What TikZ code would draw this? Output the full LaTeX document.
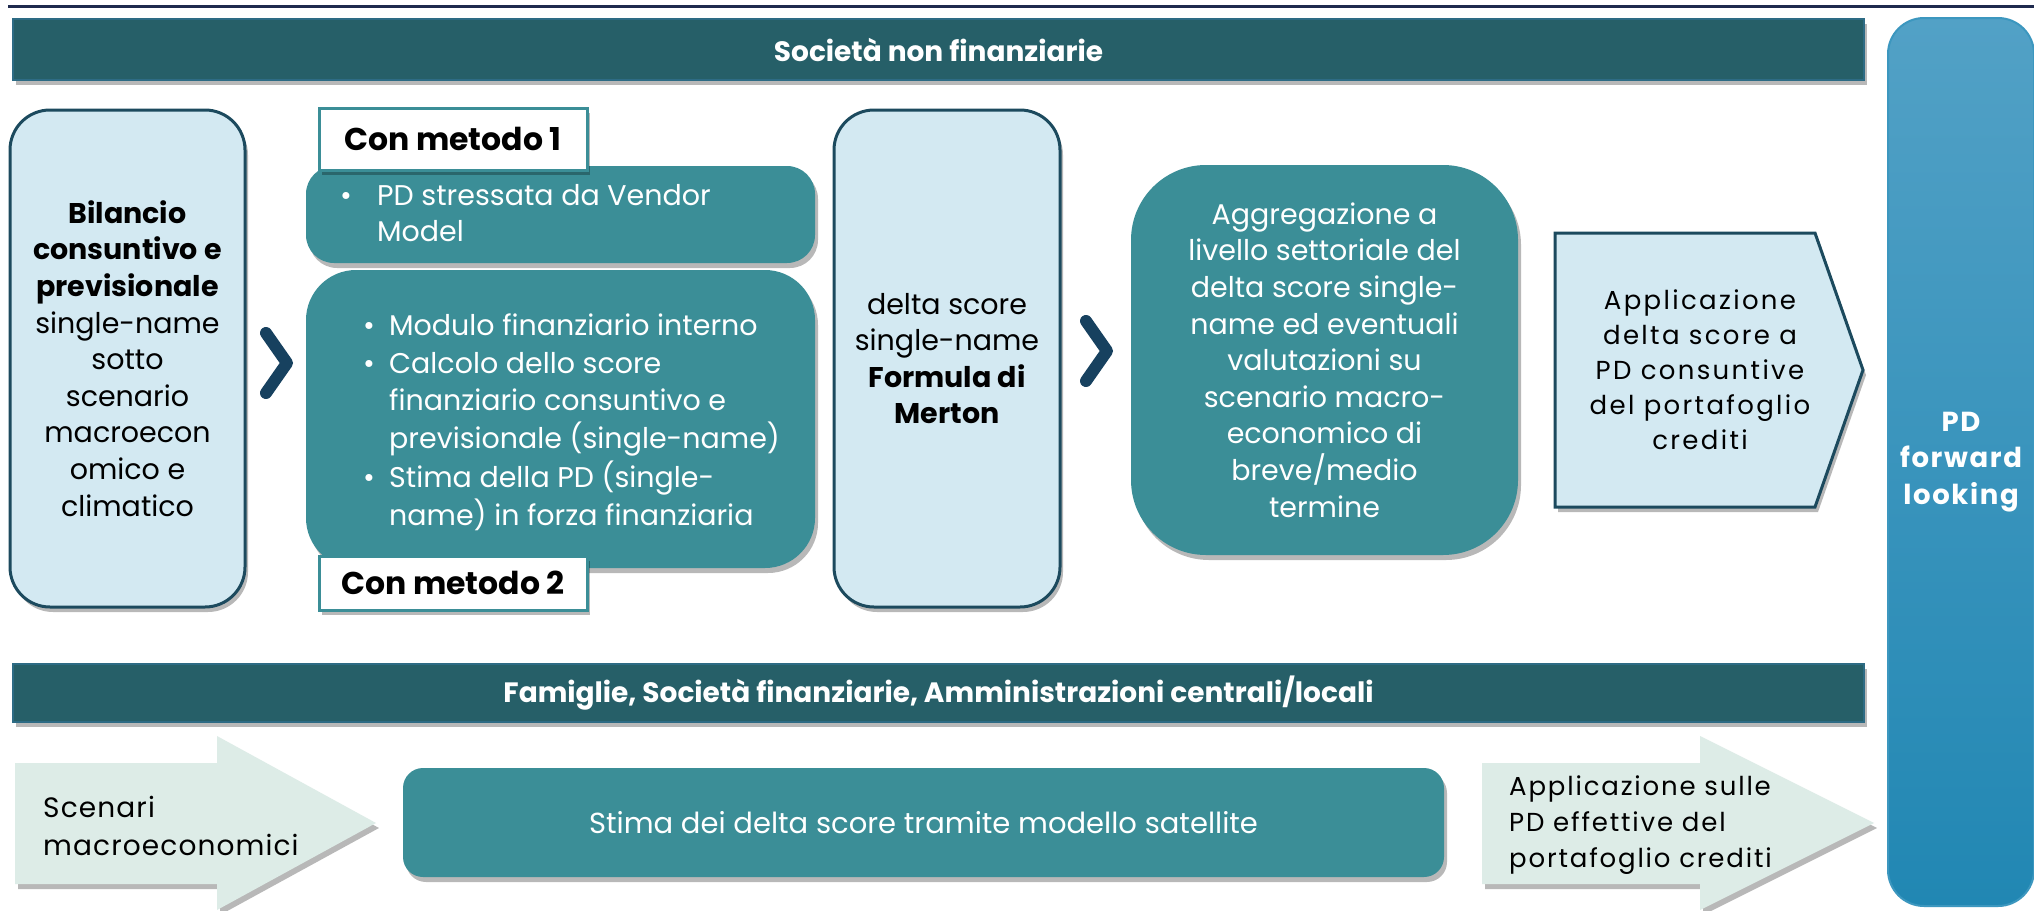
\documentclass[tikz,border=0pt]{standalone}
\usepackage{fontspec}
\setmainfont{Poppins}
\newfontfamily\spaced[LetterSpace=9]{Poppins}
\newfontfamily\spacedb[LetterSpace=6]{Poppins}
\newfontfamily\spacedd[LetterSpace=7]{Poppins}
\newfontfamily\spacedc[LetterSpace=4]{Poppins}
\usetikzlibrary{shadows}
\definecolor{navy}{HTML}{1F2A4E}
\definecolor{bannerc}{HTML}{265F68}
\definecolor{bannerln}{HTML}{2D6B84}
\definecolor{tealc}{HTML}{3B8E97}
\definecolor{lblue}{HTML}{D3E9F2}
\definecolor{lbline}{HTML}{1C4A5E}
\definecolor{chevc}{HTML}{17415F}
\definecolor{mint}{HTML}{DDECE7}
\definecolor{pdtop}{HTML}{52A1C6}
\definecolor{pdbot}{HTML}{2187B3}
\definecolor{pdline}{HTML}{3C97BF}
\begin{document}
\begin{tikzpicture}[x=1pt,y=-1pt,
  shad/.style={drop shadow={shadow xshift=3pt, shadow yshift=-5pt, opacity=0.28, fill=black}},
  bannerbox/.style={draw=bannerln, line width=2pt, fill=bannerc, shad, text=white, inner sep=0pt,
    font=\bfseries\fontsize{28}{32}\selectfont},
  lightbox/.style={draw=lbline, line width=3pt, fill=lblue, rounded corners=40pt, shad, align=center,
    inner sep=0pt, font=\fontsize{28.5}{36.6}\selectfont},
  tealbox/.style={fill=tealc, shad, inner sep=0pt},
  btext/.style={text=white, inner sep=0pt, font=\fontsize{28.5}{36.6}\selectfont},
  lab/.style={draw=tealc, line width=3pt, fill=white, shad, inner sep=0pt,
    font=\bfseries\fontsize{31.5}{34}\selectfont},
  chevron/.style={draw=chevc, line width=12pt, line cap=round, line join=round},
  penta/.style={draw=lbline, line width=3pt, fill=lblue, shad},
  mintarrow/.style={fill=mint, shad},
  ptext/.style={align=center, inner sep=0pt, font=\spaced\fontsize{26}{35}\selectfont},
  pdbox/.style={draw=pdline, line width=2pt, top color=pdtop, bottom color=pdbot, rounded corners=36pt,
    align=center, text=white, inner sep=0pt, font=\spacedb\bfseries\fontsize{27.5}{36.5}\selectfont}
]
\useasboundingbox (0,0) rectangle (2034,910);
\fill[white] (0,0) rectangle (2034,910);
\draw[navy, line width=3pt] (8,6) -- (2034,6);

% banners
\node[bannerbox, minimum width=1851pt, minimum height=61pt] (topban) at (938.5,49.5) {Società non finanziarie};
\node[bannerbox, minimum width=1851pt, minimum height=58pt] (botban) at (938.5,693) {Famiglie, Società finanziarie, Amministrazioni centrali/locali};

% PD forward looking
\node[pdbox, minimum width=146pt, minimum height=888pt] (pd) at (1961,462) {PD\\forward\\looking};

% left box
\node[lightbox, minimum width=235pt, minimum height=497pt] (bil) at (127.5,358.5)
  {\textbf{Bilancio}\\\textbf{consuntivo e}\\\textbf{previsionale}\\single-name\\sotto\\scenario\\macroecon\\omico e\\climatico};

% chevron 1
\draw[chevron] (266,333) -- (287,363) -- (266,393);

% method boxes
\node[tealbox, rounded corners=28pt, minimum width=509pt, minimum height=97pt] (m1) at (560.5,214.5) {};
\node[btext, anchor=west] (m1t) at (340,216)
  {\begin{tabular}{@{}p{37pt}@{}l@{}}\textbullet & PD stressata da Vendor\\ & Model\end{tabular}};
\node[tealbox, rounded corners=50pt, minimum width=509pt, minimum height=298pt] (m2) at (560.5,419) {};
\node[btext, anchor=west] (m2t) at (363,423)
  {\begin{tabular}{@{}p{26pt}@{}l@{}}\textbullet & Modulo finanziario interno\\[2pt]
   \textbullet & Calcolo dello score\\ & finanziario consuntivo e\\ & previsionale (single-name)\\[2pt]
   \textbullet & Stima della PD (single-\\ & name) in forza finanziaria\end{tabular}};
\node[lab, minimum width=268pt, minimum height=62pt] (l1) at (453,139) {Con metodo 1};
\node[lab, minimum width=268pt, minimum height=54pt] (l2) at (453,583) {Con metodo 2};

% Merton
\node[lightbox, minimum width=226pt, minimum height=497pt] (mer) at (947,358.5)
  {delta score\\single-name\\\textbf{Formula di}\\\textbf{Merton}};

% chevron 2
\draw[chevron] (1086,321) -- (1107,351) -- (1086,381);

% Aggregazione
\node[tealbox, rounded corners=75pt, minimum width=387pt, minimum height=390pt, align=center,
  text=white, font=\fontsize{28.5}{36.6}\selectfont] (agg) at (1324.5,360)
  {Aggregazione a\\livello settoriale del\\delta score single-\\name ed eventuali\\valutazioni su\\scenario macro-\\economico di\\breve/medio\\termine};

% pentagon
\path[penta] (1555,233) -- (1815,233) -- (1863,370) -- (1815,507) -- (1555,507) -- cycle;
\node[ptext] (app) at (1700,370) {Applicazione\\delta score a\\PD consuntive\\del portafoglio\\crediti};

% bottom row
\path[mintarrow] (15,763) -- (217,763) -- (217,736) -- (376,823) -- (217,910) -- (217,884) -- (15,884) -- cycle;
\node[anchor=west, align=left, inner sep=0pt, font=\spacedc\fontsize{28}{38}\selectfont] (scen) at (43,826)
  {Scenari\\macroeconomici};
\node[tealbox, rounded corners=20pt, minimum width=1041pt, minimum height=109pt, text=white,
  font=\fontsize{29}{32}\selectfont] (stima) at (923.5,822.5) {Stima dei delta score tramite modello satellite};
\path[mintarrow] (1482,763) -- (1700,763) -- (1700,736) -- (1874,823) -- (1700,910) -- (1700,884) -- (1482,884) -- cycle;
\node[anchor=west, align=left, inner sep=0pt, font=\spacedd\fontsize{26}{36}\selectfont] (appl) at (1509,825)
  {Applicazione sulle\\PD effettive del\\portafoglio crediti};
\end{tikzpicture}
\end{document}
